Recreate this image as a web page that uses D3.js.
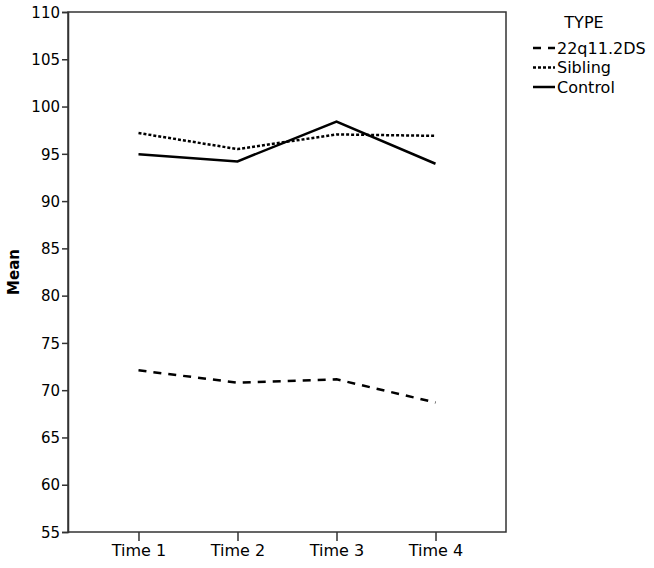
<!DOCTYPE html>
<html>
<head>
<meta charset="utf-8">
<script src="https://cdn.jsdelivr.net/npm/d3@7"></script>
<style>
  body { margin: 0; background: #fff; }
  text { font-family: "DejaVu Sans", sans-serif; fill: #000; }
</style>
</head>
<body>
<div id="chart"></div>
<script>
var times = ["Time 1", "Time 2", "Time 3", "Time 4"];
var groups = ["22q11.2DS", "Sibling", "Control"];
var del22 = [72.1, 70.8, 71.15, 68.7];
var sibling = [97.2, 95.5, 97.05, 96.9];
var control = [94.95, 94.2, 98.4, 93.95];
var yTicks = [55, 60, 65, 70, 75, 80, 85, 90, 95, 100, 105, 110];

var series = [
    {name: groups[0], values: del22, dash: "8,7"},
    {name: groups[1], values: sibling, dash: "3,2"},
    {name: groups[2], values: control, dash: null}
];

var width = 654, height = 568;
var margin = {top: 12, right: 148, bottom: 36, left: 68};

var svg = d3.select("#chart")
    .append("svg")
    .attr("width", width)
    .attr("height", height);

var x = d3.scalePoint()
    .domain(times)
    .range([margin.left, width - margin.right])
    .padding(0.712);

var y = d3.scaleLinear()
    .domain([55, 110])
    .range([height - margin.bottom, margin.top]);

// frame
svg.append("rect")
    .attr("x", margin.left)
    .attr("y", margin.top)
    .attr("width", width - margin.right - margin.left)
    .attr("height", height - margin.bottom - margin.top)
    .attr("fill", "none")
    .attr("stroke", "#333")
    .attr("stroke-width", 1.5);

var yAxis = svg.append("g")
    .attr("transform", "translate(" + margin.left + ",0)")
    .call(d3.axisLeft(y).tickValues(yTicks).tickSize(6).tickPadding(2));
yAxis.select(".domain").attr("stroke", "#333").attr("stroke-width", 1.5);
yAxis.selectAll(".tick line").attr("stroke", "#333").attr("stroke-width", 1.5);
yAxis.selectAll("text").style("font-size", "15px").attr("dy", "0.35em");

var xAxis = svg.append("g")
    .attr("transform", "translate(0," + (height - margin.bottom) + ")")
    .call(d3.axisBottom(x).tickSize(9).tickPadding(4));
xAxis.select(".domain").remove();
xAxis.selectAll(".tick line").attr("stroke", "#333").attr("stroke-width", 1.5);
xAxis.selectAll("text").style("font-size", "16px");

svg.append("text")
    .attr("transform", "translate(19," + ((margin.top + height - margin.bottom) / 2) + ") rotate(-90)")
    .attr("text-anchor", "middle")
    .style("font-size", "15px")
    .style("font-weight", "bold")
    .text("Mean");

var line = d3.line()
    .x(function(d, i) { return x(times[i]); })
    .y(function(d) { return y(d); });

svg.append("g")
    .selectAll("path")
    .data(series)
    .enter().append("path")
    .attr("d", function(d) { return line(d.values); })
    .attr("fill", "none")
    .attr("stroke", "#000")
    .attr("stroke-width", 2.5)
    .attr("stroke-dasharray", function(d) { return d.dash; });

// legend
var lg = svg.append("g");
lg.append("text")
    .attr("x", 584)
    .attr("y", 28)
    .attr("text-anchor", "middle")
    .style("font-size", "16px")
    .text("TYPE");

var item = lg.selectAll(".item")
    .data(series)
    .enter().append("g")
    .attr("class", "item")
    .attr("transform", function(d, i) { return "translate(0," + (48 + i * 19.5) + ")"; });

item.append("line")
    .attr("x1", 533).attr("x2", 555)
    .attr("y1", 0).attr("y2", 0)
    .attr("stroke", "#000")
    .attr("stroke-width", 2.5)
    .attr("stroke-dasharray", function(d) { return d.dash; });

item.append("text")
    .attr("x", 557)
    .attr("y", 0)
    .attr("dy", "0.35em")
    .style("font-size", "16px")
    .text(function(d) { return d.name; });
</script>
</body>
</html>
